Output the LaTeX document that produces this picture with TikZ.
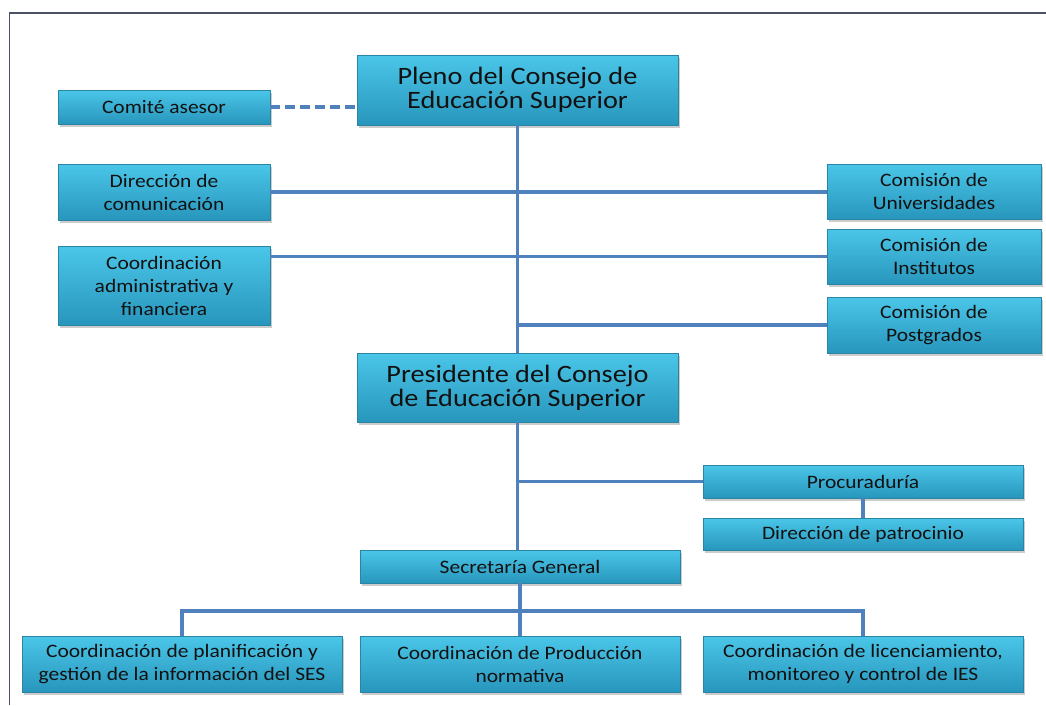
\documentclass[tikz,border=0pt]{standalone}
\usepackage{fontspec}
\setmainfont{Carlito}[FakeStretch=1.13]
\usepackage{xcolor}
\usetikzlibrary{shadows,positioning,calc}

\definecolor{boxtop}{HTML}{4AC6E8}
\definecolor{boxbot}{HTML}{2896BC}
\definecolor{boxline}{HTML}{2A84A4}
\definecolor{linkblue}{HTML}{4F81BD}
\definecolor{framegray}{HTML}{4A5263}
\definecolor{ink}{HTML}{111111}

\begin{document}
\begin{tikzpicture}[x=1pt, y=-1pt,
  box/.style={draw=boxline, line width=0.8pt, rectangle, top color=boxtop, bottom color=boxbot,
    drop shadow={shadow xshift=1.5pt, shadow yshift=-2.5pt, opacity=0.4},
    inner sep=0pt, align=center, text=ink, font=\fontsize{19}{23}\selectfont},
  bigbox/.style={box, font=\fontsize{25}{24}\selectfont},
  link/.style={draw=linkblue, line width=3.4pt},
  dashlink/.style={link, dash pattern=on 10pt off 5pt},
  frame/.style={draw=framegray, line width=1.8pt}]
\useasboundingbox (0,0) rectangle (1046,705);

% Frame of the chart
\draw[frame] (9.5,705) -- (9.5,13) -- (1046,13);

% Top level
\node[bigbox, minimum width=321, minimum height=70] (pleno) at (517.5,90) {Pleno del Consejo de\\Educación Superior};
\node[bigbox, minimum width=321, minimum height=69] (presidente) at (517.5,387.5) {Presidente del Consejo\\de Educación Superior};

% Left column
\node[box, minimum width=212, minimum height=34] (comite) at (164,107) {Comité asesor};
\node[box, minimum width=212, minimum height=56] (direccion) at (164,192) {Dirección de\\comunicación};
\node[box, minimum width=212, minimum height=79] (coordadm) at (164,285.5) {Coordinación\\administrativa y\\financiera};

% Right column
\node[box, minimum width=214, minimum height=55] (univ) at (934,191.5) {Comisión de\\Universidades};
\node[box, minimum width=214, minimum height=55] (inst) at (934,256.5) {Comisión de\\Institutos};
\node[box, minimum width=214, minimum height=56] (postg) at (934,325) {Comisión de\\Postgrados};

% Below the president
\node[box, minimum width=320, minimum height=33] (procu) at (863,481.5) {Procuraduría};
\node[box, minimum width=320, minimum height=32] (patroc) at (863,534) {Dirección de patrocinio};
\node[box, minimum width=320, minimum height=33] (secre) at (520,566.5) {Secretaría General};

% Coordinations
\node[box, minimum width=320, minimum height=56] (planif) at (182,664) {Coordinación de planificación y\\gestión de la información del SES};
\node[box, minimum width=320, minimum height=56] (produc) at (520,664) {Coordinación de Producción\\normativa};
\node[box, minimum width=320, minimum height=56] (licen) at (863,664) {Coordinación de licenciamiento,\\monitoreo y control de IES};

% Connectors
\draw[dashlink] (comite.east) -- (comite.east -| pleno.west);
\draw[link] (pleno.south) -- (presidente.north);
\draw[link] (direccion.east) -- (direccion.east -| univ.west);
\draw[link] (inst.west) -- (inst.west -| coordadm.east);
\draw[link] (postg.west) -- (postg.west -| pleno.south);
\draw[link] (presidente.south) -- (presidente.south |- secre.north);
\draw[link] (procu.west) -- (procu.west -| presidente.south);
\draw[link] (procu.south) -- (patroc.north);
\draw[link] (secre.south) -- (produc.north);
\coordinate (bus) at (520,611);
\draw[link] (planif.north) -- (planif.north |- bus) -- (licen.north |- bus) -- (licen.north);

\end{tikzpicture}
\end{document}
